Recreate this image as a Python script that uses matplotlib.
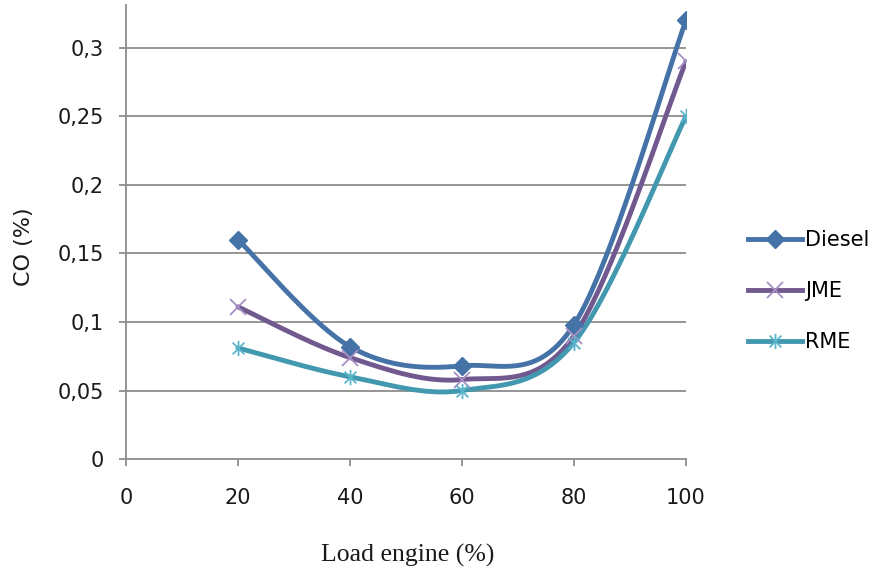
import numpy as np
import matplotlib
matplotlib.use("Agg")
import matplotlib.pyplot as plt
from matplotlib.path import Path
from matplotlib.lines import Line2D

plt.rcParams["font.family"] = ["DejaVu Sans"]

load = [20, 40, 60, 80, 100]
diesel = [0.160, 0.082, 0.068, 0.098, 0.320]
jme = [0.111, 0.074, 0.058, 0.090, 0.290]
rme = [0.081, 0.060, 0.050, 0.085, 0.250]
series_names = ["Diesel", "JME", "RME"]
xticks = [0, 20, 40, 60, 80, 100]
yticks = [0, 0.05, 0.1, 0.15, 0.2, 0.25, 0.3]
ytick_labels = ["0", "0,05", "0,1", "0,15", "0,2", "0,25", "0,3"]


def smooth(x, y, n=40):
    p = np.column_stack([x, y]).astype(float)
    pts = np.vstack([p[0], p, p[-1]])
    out = []
    for i in range(1, len(pts) - 2):
        p0, p1, p2, p3 = pts[i - 1], pts[i], pts[i + 1], pts[i + 2]
        c1 = p1 + (p2 - p0) / 6.0
        c2 = p2 - (p3 - p1) / 6.0
        t = np.linspace(0, 1, n)[:, None]
        seg = ((1 - t) ** 3) * p1 + 3 * ((1 - t) ** 2) * t * c1 + 3 * (1 - t) * t ** 2 * c2 + t ** 3 * p2
        out.append(seg if i == 1 else seg[1:])
    s = np.vstack(out)
    return s[:, 0], s[:, 1]


star_path = Path(
    [(-1, -1), (1, 1), (-1, 1), (1, -1), (0, -1.3), (0, 1.3)],
    [Path.MOVETO, Path.LINETO, Path.MOVETO, Path.LINETO, Path.MOVETO, Path.LINETO],
)

fig = plt.figure(figsize=(8.75, 5.71), dpi=100)
ax = fig.add_axes([0.144, 0.196, 0.640, 0.795])

styles = [
    dict(color="#4572A7", marker="D", mc="#4572A7", ms=9, mew=1),
    dict(color="#71588F", marker="x", mc="#A58FC4", ms=11, mew=1.3),
    dict(color="#4198AF", marker=star_path, mc="#5BB5CB", ms=11, mew=1.3),
]
datas = [diesel, jme, rme]
handles = []
for name, d, st in zip(series_names, datas, styles):
    sx, sy = smooth(load, d)
    ax.plot(sx, sy, color=st["color"], lw=3.5, solid_capstyle="round", zorder=3)
    ax.plot(load, d, ls="none", marker=st["marker"], ms=st["ms"], mfc=st["mc"],
            mec=st["mc"], mew=st["mew"], zorder=4)
    handles.append(Line2D([], [], color=st["color"], lw=3.5, marker=st["marker"], ms=st["ms"],
                          mfc=st["mc"], mec=st["mc"], mew=st["mew"]))

ax.set_xlim(0, 100)
ax.set_ylim(0, 0.331)
ax.set_xticks(xticks)
ax.set_yticks(yticks)
ax.set_yticklabels(ytick_labels)
for y in yticks[1:]:
    ax.axhline(y, color="#8C8C8C", lw=1.3, zorder=1)
for s in ["top", "right"]:
    ax.spines[s].set_visible(False)
for s in ["left", "bottom"]:
    ax.spines[s].set_color("#8C8C8C")
    ax.spines[s].set_linewidth(1.3)
ax.tick_params(axis="both", colors="#8C8C8C", width=1.3, length=5, labelsize=15,
               labelcolor="#1a1a1a")
ax.tick_params(axis="x", pad=16)
ax.tick_params(axis="y", pad=11)

fig.text(0.027, 0.568, "CO (%)", rotation=90, ha="center", va="center", fontsize=16,
         color="#1a1a1a")
fig.text(0.466, 0.028, "Load engine (%)", ha="center", va="center", fontsize=18.5,
         family="Liberation Serif", color="#1a1a1a")

fig.legend(handles, series_names, loc="center left", bbox_to_anchor=(0.855, 0.490),
           frameon=False, fontsize=15, handlelength=2.6, labelspacing=1.48,
           handletextpad=0.12, borderaxespad=0, borderpad=0)

fig.savefig("out.png", dpi=100)
